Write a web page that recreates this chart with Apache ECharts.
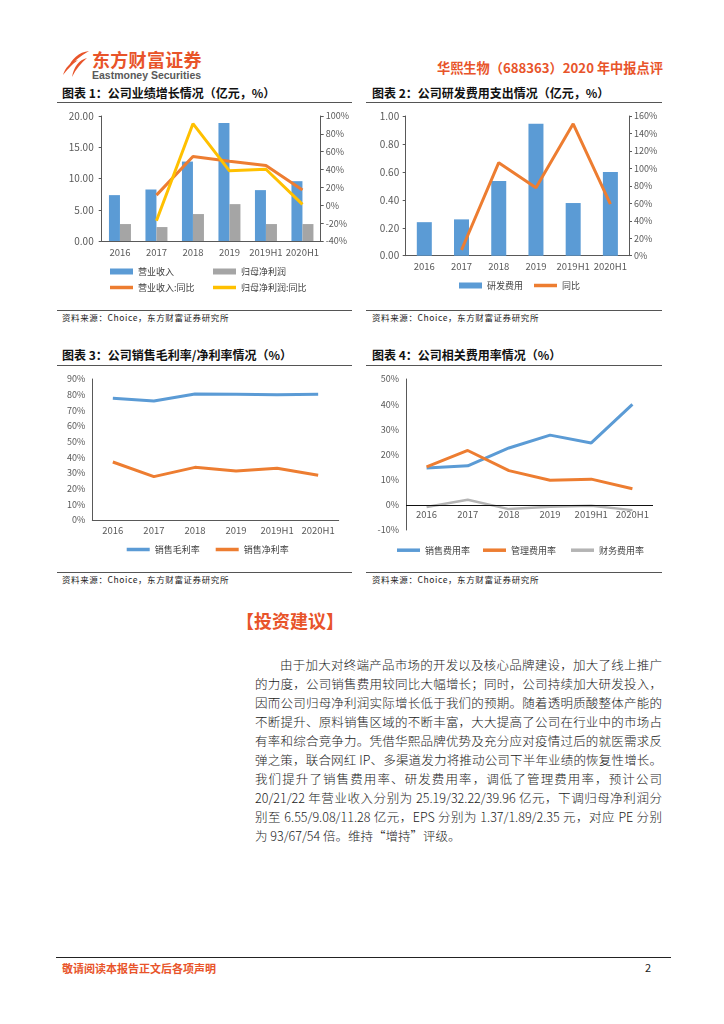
<!DOCTYPE html>
<html>
<head>
<meta charset="utf-8">
<script src="https://cdn.jsdelivr.net/npm/echarts/dist/echarts.min.js"></script>
<style>
  html, body { margin: 0; padding: 0; background: #fff; }
  body { width: 724px; height: 1024px; position: relative; overflow: hidden;
         font-family: "Noto Sans CJK SC", "Noto Sans", sans-serif; color: #222; }
  .abs { position: absolute; }
  .ctitle { font-size: 12px; font-weight: 700; color: #111; white-space: nowrap; line-height: 14px; }
  .hline { position: absolute; height: 0; border-top: 1px solid #555; }
  .src { font-size: 8.5px; letter-spacing: 0.6px; color: #222; white-space: nowrap; line-height: 10px; }
  .chart { position: absolute; }
  .para { position: absolute; left: 255px; width: 407px; font-size: 12.5px; font-weight: 300; line-height: 19.1px; color: #1a1a1a; }
  .para div { text-align: justify; text-align-last: justify; white-space: nowrap; height: 19.1px; }
  .para div.last { text-align-last: left; }
</style>
</head>
<body>
<!-- header -->
<svg class="abs" style="left:62px;top:50px" width="28" height="29" viewBox="0 0 28 29">
  <path d="M27 1 C17 2 9 9 6 19 C11 12 18 6 27 1 Z" fill="#E8542A"/>
  <path d="M25 8 C17 10 12 16 10 27 C14 19 19 13 25 8 Z" fill="#E8542A"/>
  <path d="M16 10 C8 12 3 18 1 25 C5 20 9 15 16 10 Z" fill="#E8542A"/>
</svg>
<div class="abs" style="left:92px;top:49px;font-size:18px;font-weight:700;color:#E8542A;line-height:20px;letter-spacing:0.3px;">东方财富证券</div>
<div class="abs" style="left:92px;top:69px;font-size:10.5px;font-weight:700;color:#595959;font-family:'Liberation Sans',Arial,sans-serif;line-height:12px;">Eastmoney Securities</div>
<div class="abs" style="left:437px;top:60px;font-size:13.2px;font-weight:700;color:#E8542A;line-height:16px;white-space:nowrap;">华熙生物（688363）2020 年中报点评</div>

<!-- chart titles -->
<div class="abs ctitle" style="left:62px;top:86px;">图表 1：公司业绩增长情况（亿元，%）</div>
<div class="hline" style="left:57px;top:102px;width:295px;"></div>
<div class="abs ctitle" style="left:372px;top:86px;">图表 2：公司研发费用支出情况（亿元，%）</div>
<div class="hline" style="left:366px;top:102px;width:296px;"></div>

<div class="hline" style="left:57px;top:310px;width:295px;"></div>
<div class="abs src" style="left:62px;top:312px;">资料来源：Choice，东方财富证券研究所</div>
<div class="hline" style="left:366px;top:310px;width:296px;"></div>
<div class="abs src" style="left:372px;top:312px;">资料来源：Choice，东方财富证券研究所</div>

<div class="abs ctitle" style="left:62px;top:348px;">图表 3：公司销售毛利率/净利率情况（%）</div>
<div class="hline" style="left:57px;top:365px;width:295px;"></div>
<div class="abs ctitle" style="left:372px;top:348px;">图表 4：公司相关费用率情况（%）</div>
<div class="hline" style="left:366px;top:365px;width:296px;"></div>

<div class="hline" style="left:57px;top:572px;width:295px;"></div>
<div class="abs src" style="left:62px;top:574px;">资料来源：Choice，东方财富证券研究所</div>
<div class="hline" style="left:366px;top:572px;width:296px;"></div>
<div class="abs src" style="left:372px;top:574px;">资料来源：Choice，东方财富证券研究所</div>

<div id="c1" class="chart" style="left:50px;top:105px;width:310px;height:200px;"></div>
<div id="c2" class="chart" style="left:360px;top:105px;width:320px;height:200px;"></div>
<div id="c3" class="chart" style="left:50px;top:368px;width:310px;height:202px;"></div>
<div id="c4" class="chart" style="left:360px;top:368px;width:320px;height:202px;"></div>

<!-- text -->
<div class="abs" style="left:236px;top:609px;font-size:18px;font-weight:700;color:#E8542A;line-height:22px;white-space:nowrap;">【投资建议】</div>
<div class="para" style="top:654.5px;">
  <div style="padding-left:25px;">由于加大对终端产品市场的开发以及核心品牌建设，加大了线上推广</div>
  <div>的力度，公司销售费用较同比大幅增长；同时，公司持续加大研发投入，</div>
  <div>因而公司归母净利润实际增长低于我们的预期。随着透明质酸整体产能的</div>
  <div>不断提升、原料销售区域的不断丰富，大大提高了公司在行业中的市场占</div>
  <div>有率和综合竞争力。凭借华熙品牌优势及充分应对疫情过后的就医需求反</div>
  <div>弹之策，联合网红 IP、多渠道发力将推动公司下半年业绩的恢复性增长。</div>
  <div>我们提升了销售费用率、研发费用率，调低了管理费用率，预计公司</div>
  <div>20/21/22 年营业收入分别为 25.19/32.22/39.96 亿元，下调归母净利润分</div>
  <div>别至 6.55/9.08/11.28 亿元，EPS 分别为 1.37/1.89/2.35 元，对应 PE 分别</div>
  <div class="last">为 93/67/54 倍。维持“增持”评级。</div>
</div>

<!-- footer -->
<div class="hline" style="left:56px;top:957px;width:615px;border-top:1.5px solid #222;"></div>
<div class="abs" style="left:62px;top:962px;font-size:11px;font-weight:700;color:#E8542A;line-height:13px;white-space:nowrap;">敬请阅读本报告正文后各项声明</div>
<div class="abs" style="left:645px;top:961px;font-size:11px;color:#222;line-height:13px;">2</div>

<script>
// ---------- data ----------
const categories = ['2016', '2017', '2018', '2019', '2019H1', '2020H1'];
// chart 1 (亿元 / %)
const revenue = [7.34, 8.24, 12.71, 18.88, 8.14, 9.57];
const netProfit = [2.71, 2.23, 4.31, 5.90, 2.71, 2.71];
const revenueYoY = [null, 11.4, 54.6, 49.4, 44.5, 17.0];
const netProfitYoY = [null, -17.3, 91.4, 38.6, 40.4, 1.0];
// chart 2
const rdExpense = [0.24, 0.26, 0.535, 0.945, 0.377, 0.60];
const rdYoY = [null, 6.5, 106.5, 77.9, 151.0, 59.2];
// chart 3 (%)
const grossMargin = [77.7, 76.0, 80.4, 80.2, 80.0, 80.2];
const netMargin = [37.0, 27.7, 33.6, 31.3, 33.0, 28.5];
// chart 4 (%)
const salesRate = [14.6, 15.5, 22.6, 27.7, 24.6, 39.9];
const adminRate = [15.1, 21.6, 13.6, 9.8, 10.2, 6.4];
const financeRate = [-0.9, 2.0, -1.7, -0.8, -0.4, -2.1];
// axis ranges
const c1Left = { min: 0, max: 20, interval: 5 };
const c1Right = { min: -40, max: 100, interval: 20 };
const c2Left = { min: 0, max: 1, interval: 0.2 };
const c2Right = { min: 0, max: 160, interval: 20 };
const c3Axis = { min: 0, max: 90, interval: 10 };
const c4Axis = { min: -10, max: 50, interval: 10 };

// ---------- styles ----------
const BLUE = '#5B9BD5', GRAY = '#A5A5A5', ORANGE = '#ED7D31', YELLOW = '#FFC000';
const FONT = '"Noto Sans CJK SC", "Noto Sans", sans-serif';
const axisColor = '#595959';
const labelStyle = { color: '#595959', fontSize: 9, fontFamily: FONT };
const legendText = { color: '#404040', fontSize: 9, fontFamily: FONT };

function legendItem(name, left, top, isLine) {
  return {
    data: [name], left: left, top: top, icon: 'rect',
    itemWidth: 23, itemHeight: isLine ? 3.5 : 6,
    textStyle: legendText, selectedMode: false, padding: 0
  };
}
function catAxis(margin, showLine) {
  return {
    type: 'category', data: categories, boundaryGap: true,
    axisLine: { show: showLine !== false, onZero: false, lineStyle: { color: axisColor, width: 1 } },
    axisTick: { show: false },
    axisLabel: Object.assign({ margin: margin, interval: 0 }, labelStyle, { fontSize: 9.5 }),
    splitLine: { show: false }
  };
}
function valAxis(range, fmt, margin, opts) {
  opts = opts || {};
  return Object.assign({
    type: 'value', min: range.min, max: range.max, interval: range.interval,
    axisLine: { show: true, lineStyle: { color: axisColor, width: 1 } },
    axisTick: { show: !!opts.ticks, length: 3, lineStyle: { color: axisColor } },
    axisLabel: Object.assign({ margin: margin, formatter: fmt }, labelStyle, opts.fontSize ? { fontSize: opts.fontSize } : {}),
    splitLine: { show: false }
  }, opts.position ? { position: opts.position } : {});
}
function lineSeries(name, data, color, yIdx, width) {
  return {
    name: name, type: 'line', data: data, yAxisIndex: yIdx || 0,
    symbol: 'none', smooth: false, connectNulls: false,
    lineStyle: { color: color, width: width || 3 },
    itemStyle: { color: color }, z: 5
  };
}

// ---------- chart 1 ----------
const ch1 = echarts.init(document.getElementById('c1'), null, { renderer: 'canvas' });
ch1.setOption({
  animation: false,
  textStyle: { fontFamily: FONT },
  grid: { left: 51.7, right: 39.3, top: 11, bottom: 64 },
  legend: [
    legendItem('营业收入', 60, 162, false),
    legendItem('归母净利润', 163, 162, false),
    legendItem('营业收入:同比', 60, 178, true),
    legendItem('归母净利润:同比', 163, 178, true)
  ],
  xAxis: catAxis(6.5),
  yAxis: [
    valAxis(c1Left, v => v.toFixed(2), 8, { ticks: true, fontSize: 10 }),
    valAxis(c1Right, '{value}%', 5, { ticks: true, position: 'right' })
  ],
  series: [
    { name: '营业收入', type: 'bar', data: revenue, barWidth: 11, barGap: '0%', itemStyle: { color: BLUE } },
    { name: '归母净利润', type: 'bar', data: netProfit, barWidth: 11, barGap: '0%', itemStyle: { color: GRAY } },
    lineSeries('营业收入:同比', revenueYoY, ORANGE, 1),
    lineSeries('归母净利润:同比', netProfitYoY, YELLOW, 1)
  ]
});

// ---------- chart 2 ----------
const ch2 = echarts.init(document.getElementById('c2'), null, { renderer: 'canvas' });
ch2.setOption({
  animation: false,
  textStyle: { fontFamily: FONT },
  grid: { left: 45.7, right: 51, top: 11, bottom: 49.3 },
  legend: [
    legendItem('研发费用', 99, 176, false),
    legendItem('同比', 174, 176, true)
  ],
  xAxis: catAxis(6),
  yAxis: [
    valAxis(c2Left, v => v.toFixed(2), 6.5, { ticks: true, fontSize: 10 }),
    valAxis(c2Right, '{value}%', 5, { ticks: true, position: 'right' })
  ],
  series: [
    { name: '研发费用', type: 'bar', data: rdExpense, barWidth: 15, itemStyle: { color: BLUE } },
    lineSeries('同比', rdYoY, ORANGE, 1)
  ]
});

// ---------- chart 3 ----------
const ch3 = echarts.init(document.getElementById('c3'), null, { renderer: 'canvas' });
ch3.setOption({
  animation: false,
  textStyle: { fontFamily: FONT },
  grid: { left: 42.3, right: 21.3, top: 11, bottom: 50 },
  legend: [
    legendItem('销售毛利率', 76.7, 177, true),
    legendItem('销售净利率', 165.7, 177, true)
  ],
  xAxis: catAxis(6),
  yAxis: valAxis(c3Axis, '{value}%', 7, { ticks: false }),
  series: [
    lineSeries('销售毛利率', grossMargin, BLUE),
    lineSeries('销售净利率', netMargin, ORANGE)
  ]
});

// ---------- chart 4 ----------
// x labels sit just under the 0% line, which is drawn as a markLine
const ch4 = echarts.init(document.getElementById('c4'), null, { renderer: 'canvas' });
const c4Xaxis = catAxis(-20, false);
ch4.setOption({
  animation: false,
  textStyle: { fontFamily: FONT },
  grid: { left: 46, right: 27, top: 11, bottom: 40 },
  legend: [
    legendItem('销售费用率', 37, 177.7, true),
    legendItem('管理费用率', 123, 177.7, true),
    legendItem('财务费用率', 211, 177.7, true)
  ],
  xAxis: c4Xaxis,
  yAxis: valAxis(c4Axis, '{value}%', 7, { ticks: false }),
  series: [
    lineSeries('销售费用率', salesRate, BLUE),
    lineSeries('管理费用率', adminRate, ORANGE),
    Object.assign(lineSeries('财务费用率', financeRate, '#B4B4B4', 0, 2.5), {
      z: 3,
      markLine: {
        silent: true, symbol: ['none', 'none'], label: { show: false },
        lineStyle: { color: '#111', width: 1, type: 'solid' },
        data: [{ yAxis: 0 }]
      }
    })
  ]
});
</script>
</body>
</html>
